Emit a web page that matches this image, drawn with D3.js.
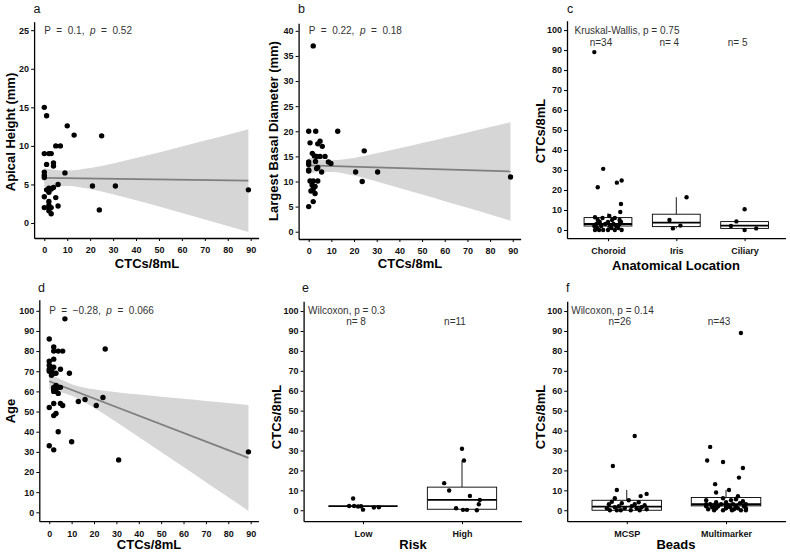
<!DOCTYPE html>
<html><head><meta charset="utf-8">
<script src="https://cdn.jsdelivr.net/npm/d3@7"></script>
<style>
body{margin:0;background:#fff}
svg{display:block}
text{font-family:"Liberation Sans",Arial,sans-serif}
</style></head>
<body><svg id="c" width="790" height="555"></svg>
<script>
// ---------- Panel a: Apical height vs CTCs ----------
const a_ctc    = [0,1,10,13,25,5,7,0,2,3,1,4,4,0,0,9,0,6,2,3,4,1,21,31,0,5,2,2,6,0,2,3,2,3,24,89,2];
const a_height = [15,13.9,12.6,11.4,11.3,10,10,9,9,9,7.6,7.8,7.4,6.6,6.2,6.5,5.9,5.0,4.5,4.4,4.6,4.3,4.8,4.8,3.4,3.3,2.8,2.3,2.2,2.0,2.0,2.0,1.6,1.2,1.7,4.3,4.0];
const a_fitX = [0,89], a_fitY = [5.85,5.5];
const bandX  = [0,5,10,20,30,40,50,60,70,80,89];
const a_bandLo = [4.61,4.78,4.81,4.42,3.74,2.95,2.14,1.30,0.47,-0.38,-1.15];
const a_bandHi = [7.09,6.88,6.81,7.12,7.72,8.43,9.16,9.92,10.69,11.46,12.15];
const a_xTicks = [0,10,20,30,40,50,60,70,80,90];
const a_yTicks = [0,5,10,15,20,25];

// ---------- Panel b: Largest basal diameter vs CTCs ----------
const b_ctc  = [2,0,3.1,12.8,0.6,4,5,6,1.6,2.5,3.5,5,7.2,8.7,9.8,0,0,24.5,0,0,3.5,5.7,20.7,30.4,0.6,2,4,1.5,2.8,1,2.8,2,0,23.6,89,2,3,4];
const b_diam = [37,20,20,20,17.7,17.5,18,17,15.6,15.1,15,15,15,13.9,13.6,13.9,13.4,16.1,12.3,12.1,12.6,11.9,11.9,11.9,10.1,10.1,10.1,9.3,9,8.1,7.6,6,5,10,10.9,8.5,14,12.8];
const b_fitX = [0,89], b_fitY = [13.2,12.0];
const b_bandLo = [11.61,11.88,11.91,11.17,10.0,8.72,7.41,6.08,4.75,3.41,2.2];
const b_bandHi = [14.79,14.38,14.23,14.69,15.6,16.6,17.65,18.7,19.77,20.83,21.8];
const b_yTicks = [0,5,10,15,20,25,30,35,40];

// ---------- Panel d: Age vs CTCs ----------
const d_ctc = [0,2,2,4,6,25,7,0,2,0,1,2,0,1,0,2,3,5,9,1,2,3,4,5,2,3,4,2,13,16,21,24,0,2,5,6,2,3,4,10,0,2,31,89];
const d_age = [86,82,80,80,80,81,96,75,76,73,72,72,71,70,70,69,69,71,69,68,62,63,62,62,61,60,59,60,55,56,53,57,52,54,54,53,48,49,40,35,33,31,26,30];
const d_fitX = [0,89], d_fitY = [65.0,27.0];
const d_bandLo = [60.9,59.73,57.86,51.87,44.76,37.4,29.95,22.47,14.97,7.46,0.7];
const d_bandHi = [69.1,66.01,63.6,61.05,59.62,58.44,57.35,56.29,55.25,54.22,53.3];
const d_yTicks = [0,10,20,30,40,50,60,70,80,90,100];

// ---------- Panel c: CTCs by anatomical location ----------
const c_cats = ["Choroid","Iris","Ciliary"];
const c_n    = [34,4,5];
const c_q1 = [2.0,1.7,0.8], c_med = [3.0,3.7,2.2], c_q3 = [6.2,7.9,4.2], c_lo = [0,0.8,0], c_hi = [8.4,16.4,4.3];
const c_grp = [0,0,0,0,0,0,0,0, 0,0,0,0,0,0,0,0,0,0,0,0,0,0,0,0,0,0,0,0,0,0,0,0,0,0, 1,1,1,1, 2,2,2,2,2];
const c_val = [89,30.6,21.4,23.7,24.8,13.0,9.0,6.4, 0,0,0,0,0,0,1,1,1,2,2,2,2,3,3,3,3,4,4,4,5,5,6,6,7,5, 5.0,0.8,2.2,16.4, 4.3,10.4,2.0,0,0.8];
const c_jit = [-0.2,-0.07,-0.15,0.13,0.2,0.19,0.18,-0.19, -0.19,-0.13,-0.07,0.0,0.1,0.2,-0.16,0.05,0.15,-0.2,-0.1,0.03,0.12,-0.17,-0.04,0.08,0.17,-0.12,0.0,0.19,-0.15,0.06,-0.08,0.1,0.02,0.17, -0.1,-0.05,0.06,0.15, -0.12,0.0,-0.2,0.0,0.17];

// ---------- Panel e: CTCs by risk ----------
const e_cats = ["Low","High"];
const e_n    = [8,11];
const e_q1 = [2.1,0.5], e_med = [2.1,5.2], e_q3 = [2.1,11.6], e_lo = [2.1,0], e_hi = [2.1,25];
const e_grp = [0,0,0,0,0,0,0,0, 1,1,1,1,1,1,1,1,1,1,1];
const e_val = [5.9,2.1,2.1,1.9,2.0,0.3,1.4,1.5, 30.9,25.0,13.6,9.9,7.2,5.2,3.0,1.0,0.2,0.2,0];
const e_jit = [-0.1,-0.14,-0.09,-0.05,-0.02,0.0,0.11,0.16, 0.0,0.02,-0.18,-0.13,0.08,0.18,0.17,-0.06,0.01,0.05,0.15];

// ---------- Panel f: CTCs by beads ----------
const f_cats = ["MCSP","Multimarker"];
const f_n    = [26,43];
const f_q1 = [0,2.2], f_med = [1.8,3.0], f_q3 = [5.0,6.4], f_lo = [0,0], f_hi = [10.2,10.2];
const f_grp = [0,0,0,0,0,0,0,0,0,0,0,0,0,0,0,0,0,0,0,0,0,0,0,0,0,0,
  1,1,1,1,1,1,1,1,1, 1,1,1,1,1,1,1,1,1,1,1,1,1,1,1,1,1,1,1,1,1,1,1,1,1,1,1,1,1,1,1,1,1,1];
const f_val = [37.3,22.2,10.2,8.2,7.1,6,5,4.3,4,3.5,3,3,2.5,2,2,1.5,1.5,1,1,1,0.5,0,0,0,0,0,
  89,31.8,25,24.2,21.2,16.4,13.1,10.2,8.9,
  7,6,5.5,5,5,4.5,4,4,3.5,3,3,3,3,2.5,2.5,2,2,2,2,1.5,1.5,1,1,1,1,0.5,0.5,0,0,0,0,0,3,2];
const f_jit = [0.08,-0.14,-0.1,0.2,0.14,-0.12,0.02,-0.15,0.12,-0.05,0.08,-0.18,0.18,-0.08,0.05,-0.12,0.15,-0.02,0.1,-0.2,0.2,-0.17,-0.06,0.04,0.13,-0.1,
  0.15,-0.16,-0.19,-0.03,0.17,0.13,-0.11,0.03,-0.1,
  0.12,-0.03,0.1,-0.2,0.05,0.17,-0.1,0.0,0.14,-0.16,-0.05,0.07,0.2,-0.12,0.02,-0.2,-0.08,0.1,0.18,-0.14,0.04,-0.1,0.0,0.12,0.2,-0.18,0.08,-0.12,-0.03,0.06,0.15,0.2,-0.2,0.0];
const box_yTicks = [0,10,20,30,40,50,60,70,80,90,100];

// =====================================================
const svg = d3.select("#c");
const FONT = '"Liberation Sans",Arial,sans-serif';

function axes(xs, ys, xVals, xFmt, yVals){
  const gx = svg.append("g").attr("transform",`translate(0,${ys.range()[0]})`)
    .call(d3.axisBottom(xs).tickValues(xVals).tickFormat(xFmt).tickSize(3).tickSizeOuter(0).tickPadding(6));
  const gy = svg.append("g").attr("transform",`translate(${xs.range()[0]},0)`)
    .call(d3.axisLeft(ys).tickValues(yVals).tickSize(3).tickSizeOuter(0).tickPadding(2));
  [gx,gy].forEach(g=>{
    g.attr("font-family",FONT).attr("font-size",9).attr("font-weight","bold");
    g.select(".domain").attr("stroke","#000").attr("stroke-width",1.3);
    g.selectAll(".tick line").attr("stroke","#000").attr("stroke-width",1);
    g.selectAll(".tick text").attr("fill","#111");
  });
}
function label(t,x,y){
  svg.append("text").attr("x",x).attr("y",y).attr("font-size",12.5).attr("fill","#111").text(t);
}
function xTitle(t,x,y){
  svg.append("text").attr("x",x).attr("y",y).attr("text-anchor","middle")
    .attr("font-size",13).attr("font-weight","bold").attr("fill","#000").text(t);
}
function yTitle(t,x,y){
  svg.append("text").attr("transform",`translate(${x},${y}) rotate(-90)`).attr("text-anchor","middle")
    .attr("font-size",13).attr("font-weight","bold").attr("fill","#000").text(t);
}

function scatter(cfg){
  const xs = d3.scaleLinear().domain(cfg.xDom).range(cfg.xRange);
  const ys = d3.scaleLinear().domain(cfg.yDom).range(cfg.yRange);
  axes(xs, ys, a_xTicks, d3.format("d"), cfg.yTicks);
  const area = d3.area().x((d,i)=>xs(bandX[i])).y0((d,i)=>ys(cfg.lo[i])).y1((d,i)=>ys(cfg.hi[i])).curve(d3.curveMonotoneX);
  svg.append("path").datum(bandX).attr("d",area).attr("fill","#d6d6d6");
  svg.append("line").attr("x1",xs(cfg.fitX[0])).attr("x2",xs(cfg.fitX[1]))
    .attr("y1",ys(cfg.fitY[0])).attr("y2",ys(cfg.fitY[1])).attr("stroke","#7f7f7f").attr("stroke-width",1.7);
  svg.append("g").selectAll("circle").data(cfg.xv).join("circle")
    .attr("cx",d=>xs(d)).attr("cy",(d,i)=>ys(cfg.yv[i])).attr("r",2.7).attr("fill","#000");
  const t = svg.append("text").attr("x",xs(0)).attr("y",ys(cfg.annY)+3.5).attr("font-size",10)
    .attr("fill","#333").style("white-space","pre");
  t.append("tspan").text(`P  =  ${cfg.r},  `);
  t.append("tspan").attr("font-style","italic").text("p");
  t.append("tspan").text(`  =  ${cfg.p}`);
}

function boxes(cfg){
  const k = cfg.cats.length;
  const xs = d3.scaleLinear().domain([0.4,k+0.6]).range(cfg.xRange);
  const ys = d3.scaleLinear().domain(cfg.yDom).range(cfg.yRange);
  axes(xs, ys, d3.range(1,k+1), i=>cfg.cats[i-1], box_yTicks);
  const bw = 0.35;
  const g = svg.append("g");
  cfg.cats.forEach((c,i)=>{
    const cx = xs(i+1);
    g.append("line").attr("x1",cx).attr("x2",cx).attr("y1",ys(cfg.q3[i])).attr("y2",ys(cfg.hi[i])).attr("stroke","#000").attr("stroke-width",0.9);
    g.append("line").attr("x1",cx).attr("x2",cx).attr("y1",ys(cfg.q1[i])).attr("y2",ys(cfg.lo[i])).attr("stroke","#000").attr("stroke-width",0.9);
    g.append("rect").attr("x",xs(i+1-bw)).attr("width",xs(i+1+bw)-xs(i+1-bw))
      .attr("y",ys(cfg.q3[i])).attr("height",Math.max(0,ys(cfg.q1[i])-ys(cfg.q3[i])))
      .attr("fill","#fff").attr("stroke","#000").attr("stroke-width",0.9);
    g.append("line").attr("x1",xs(i+1-bw)).attr("x2",xs(i+1+bw)).attr("y1",ys(cfg.med[i])).attr("y2",ys(cfg.med[i]))
      .attr("stroke","#000").attr("stroke-width",1.8);
    svg.append("text").attr("x",cx-7).attr("y",ys(cfg.nY)+3.5).attr("text-anchor","middle")
      .attr("font-size",10).attr("fill","#333").style("white-space","pre")
      .text("n=" + String(cfg.n[i]).padStart(2," "));
  });
  svg.append("g").selectAll("circle").data(cfg.val).join("circle")
    .attr("cx",(d,i)=>xs(cfg.grp[i]+1+cfg.jit[i])).attr("cy",d=>ys(d)).attr("r",2.2).attr("fill","#000");
  svg.append("text").attr("x",cfg.xRange[0]+cfg.annDx).attr("y",ys(cfg.annY)+3.5).attr("font-size",10)
    .attr("fill","#333").text(cfg.ann);
}

// ---- a ----
scatter({xDom:[-4.45,93.45], xRange:[34.1,258.6], yDom:[-1.94,26.1], yRange:[238,21.7],
  yTicks:a_yTicks, xv:a_ctc, yv:a_height, lo:a_bandLo, hi:a_bandHi, fitX:a_fitX, fitY:a_fitY,
  r:"0.1", p:"0.52", annY:25});
label("a",33.5,12.5); xTitle("CTCs/8mL",147,268); yTitle("Apical Height (mm)",14.5,132);

// ---- b ----
scatter({xDom:[-4.45,93.45], xRange:[298.6,520.6], yDom:[-1.45,41.5], yRange:[239,23.3],
  yTicks:b_yTicks, xv:b_ctc, yv:b_diam, lo:b_bandLo, hi:b_bandHi, fitX:b_fitX, fitY:b_fitY,
  r:"0.22", p:"0.18", annY:40});
label("b",298,12.5); xTitle("CTCs/8mL",410,268); yTitle("Largest Basal Diameter (mm)",278,131);

// ---- c ----
boxes({cats:c_cats, n:c_n, q1:c_q1, med:c_med, q3:c_q3, lo:c_lo, hi:c_hi, grp:c_grp, val:c_val, jit:c_jit,
  xRange:[567,785.6], yDom:[-4.1,104.7], yRange:[238.2,20.7], nY:94, annY:100, annDx:7.5,
  ann:"Kruskal-Wallis, p = 0.75"});
label("c",567,12.5); xTitle("Anatomical Location",676,269.7); yTitle("CTCs/8mL",544.5,131);

// ---- d ----
scatter({xDom:[-4.45,93.45], xRange:[39.3,258.4], yDom:[-4.41,105.5], yRange:[521.2,299.7],
  yTicks:d_yTicks, xv:d_ctc, yv:d_age, lo:d_bandLo, hi:d_bandHi, fitX:d_fitX, fitY:d_fitY,
  r:"\u22120.28", p:"0.066", annY:100});
label("d",38,292); xTitle("CTCs/8mL",149,549.4); yTitle("Age",14.5,411);

// ---- e ----
boxes({cats:e_cats, n:e_n, q1:e_q1, med:e_med, q3:e_q3, lo:e_lo, hi:e_hi, grp:e_grp, val:e_val, jit:e_jit,
  xRange:[303.6,521.4], yDom:[-5.5,104.9], yRange:[521.2,301.3], nY:95, annY:100.5, annDx:4.5,
  ann:"Wilcoxon, p = 0.3"});
label("e",302,292); xTitle("Risk",413,549.4); yTitle("CTCs/8mL",280.5,417);

// ---- f ----
boxes({cats:f_cats, n:f_n, q1:f_q1, med:f_med, q3:f_q3, lo:f_lo, hi:f_hi, grp:f_grp, val:f_val, jit:f_jit,
  xRange:[567.2,785.6], yDom:[-5.5,104.9], yRange:[521.2,301.3], nY:95, annY:100.5, annDx:4,
  ann:"Wilcoxon, p = 0.14"});
label("f",566,292); xTitle("Beads",676,549.4); yTitle("CTCs/8mL",544.5,417);
</script>
</body></html>
